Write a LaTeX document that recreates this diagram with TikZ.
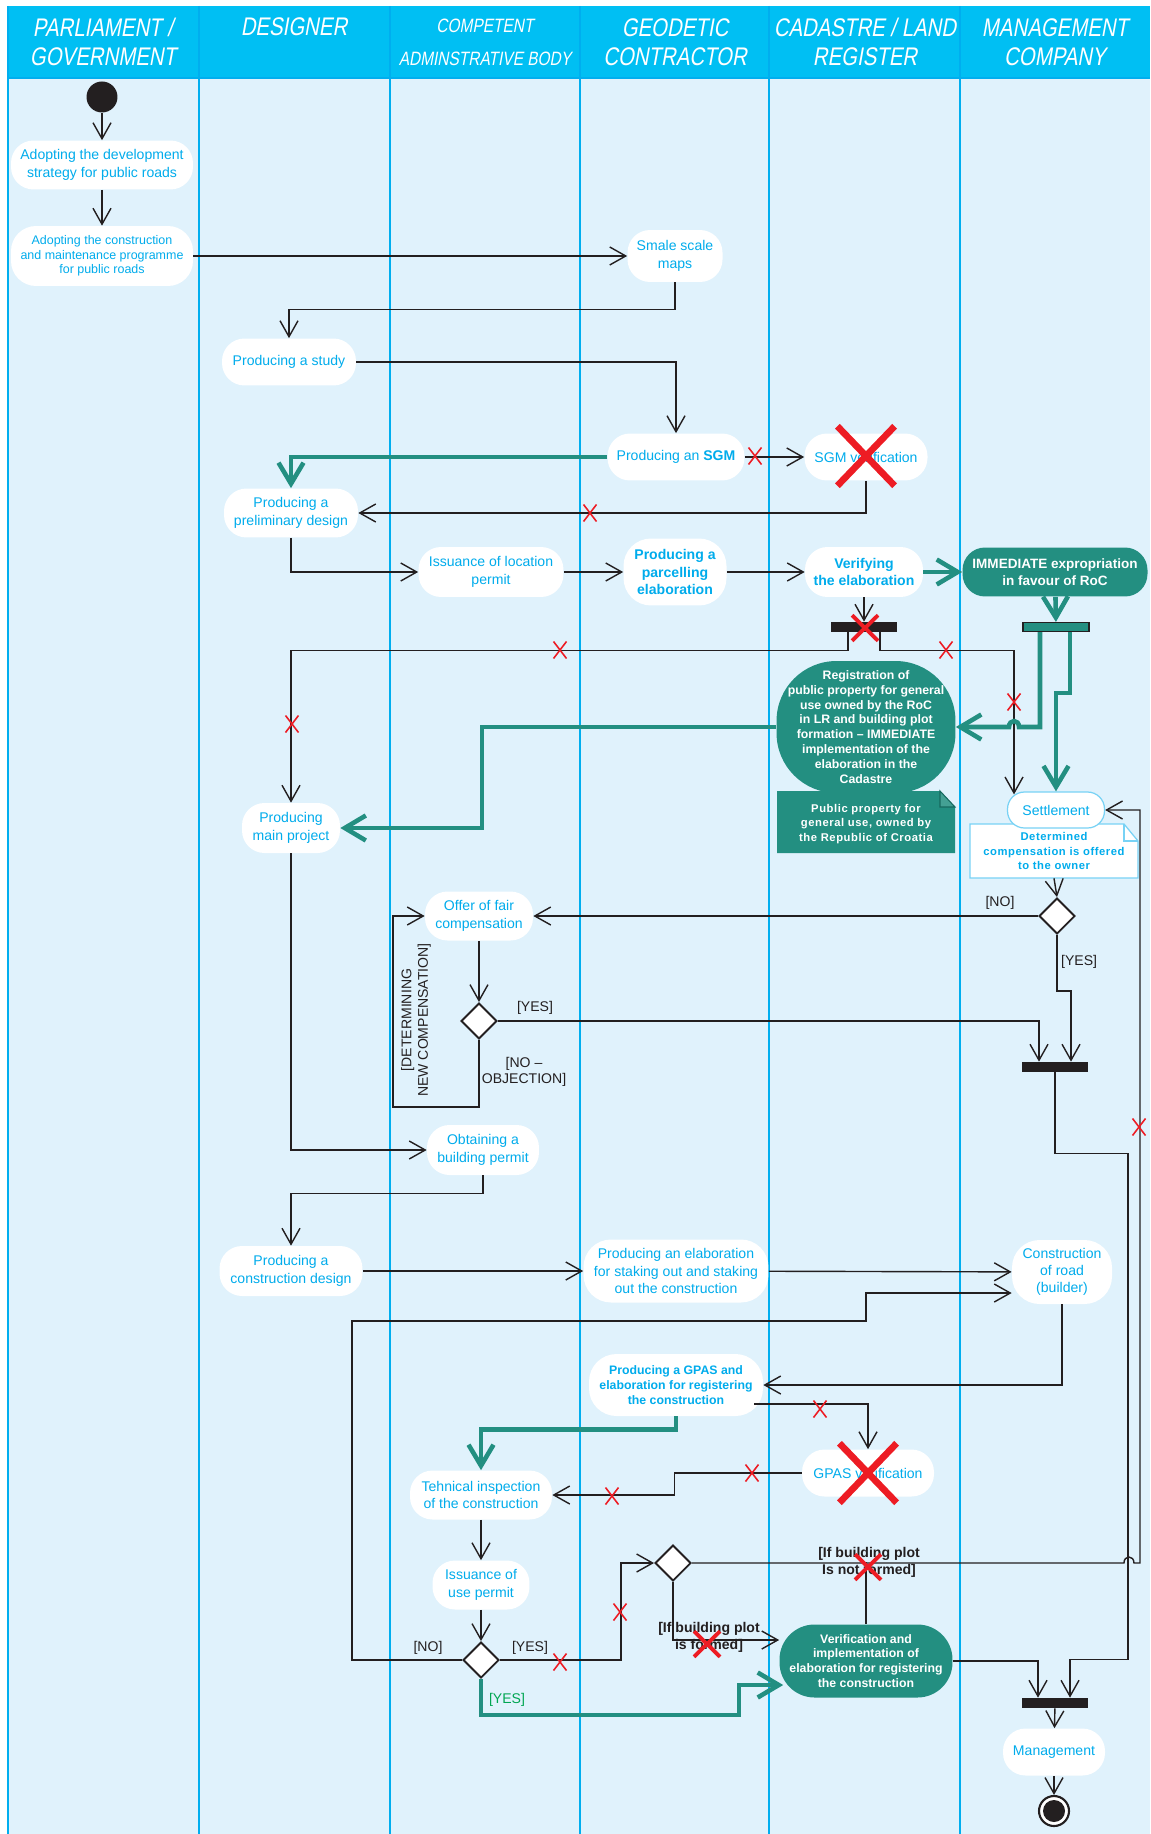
\documentclass[tikz,border=0pt]{standalone}
\usepackage{fontspec}
\setmainfont{Liberation Sans}
\newfontfamily\headfont[FakeStretch=0.8,FakeSlant=0.18]{Liberation Sans}
\newfontfamily\notefont[LetterSpace=5]{Liberation Sans}
\usetikzlibrary{arrows.meta,shapes.geometric,calc}
\definecolor{lane_bg}{RGB}{224,242,252}
\definecolor{head_blue}{RGB}{0,191,243}
\definecolor{lane_line}{RGB}{0,174,239}
\definecolor{xcyan}{RGB}{0,172,236}
\definecolor{xteal}{RGB}{35,143,129}
\definecolor{fold_teal}{RGB}{22,105,95}
\definecolor{xdark}{RGB}{35,31,32}
\definecolor{xred}{RGB}{237,28,36}
\definecolor{xgreen}{RGB}{0,166,81}
\definecolor{note_line}{RGB}{120,210,245}
\tikzstyle{lanehead}=[text=white,align=center,font=\headfont\fontsize{14.5}{16.4}\selectfont]
\tikzstyle{act}=[rectangle,rounded corners=0.45cm,fill=white,text=xcyan,align=center,
  inner sep=1pt,font=\fontsize{8}{10}\selectfont]
\tikzstyle{boldact}=[act,font=\bfseries\fontsize{8}{10}\selectfont]
\tikzstyle{tealact}=[act,fill=xteal,text=white,font=\bfseries\fontsize{7.7}{10}\selectfont]
\tikzstyle{notetext}=[align=center,inner sep=0pt,font=\notefont\bfseries\fontsize{6.4}{8.4}\selectfont]
\tikzstyle{bar}=[rectangle,fill=xdark,minimum width=1.32cm,minimum height=0.2cm,inner sep=0pt]
\tikzstyle{tealbar}=[bar,fill=xteal,draw=xdark,line width=0.6pt,minimum height=0.18cm]
\tikzstyle{choice}=[diamond,draw=xdark,fill=white,line width=1.1pt,minimum width=0.72cm,
  minimum height=0.72cm,inner sep=0pt]
\tikzstyle{startdot}=[circle,fill=xdark,minimum size=0.62cm,inner sep=0pt]
\tikzstyle{enddot}=[circle,draw=xdark,line width=1.2pt,fill=white,minimum size=0.6cm,inner sep=0pt,
  path picture={\fill [xdark] (path picture bounding box.center) circle (0.22cm);}]
\tikzstyle{guard}=[text=xdark,align=center,inner sep=1pt,font=\fontsize{8}{9.5}\selectfont]
\tikzstyle{flow}=[draw=xdark,line width=0.8pt,-{Straight Barb[length=0.32cm,width=0.36cm]}]
\tikzstyle{wire}=[draw=xdark,line width=0.8pt]
\tikzstyle{tealflow}=[draw=xteal,line width=2.6pt,-{Straight Barb[length=0.42cm,width=0.5cm]}]
\tikzstyle{smallx}=[xred,line width=0.9pt]
\tikzstyle{midx}=[xred,line width=2.2pt,xscale=2,yscale=1.5]
\tikzstyle{bigx}=[xred,line width=3.8pt,xscale=4.4,yscale=3.5]
\tikzset{redx/.pic={\draw (-6.5,-8.5) -- (6.5,8.5) (-6.5,8.5) -- (6.5,-8.5);}}

\begin{document}
\begin{tikzpicture}[x=0.02cm,y=-0.02cm]
    \useasboundingbox (0,0) rectangle (1150,1834);
    \fill [lane_bg] (8,78) rectangle (1150,1834);
    \fill [head_blue] (8,6) rectangle (1150,78);
    \draw [lane_line,line width=1pt] (8,78) -- (1150,78);
    \foreach \x in {8,199,390,580,769,960}
        \draw [lane_line,line width=1.4pt] (\x,6) -- (\x,1834);

    \node [style=lanehead] (h1) at (103,42) {PARLIAMENT /\\GOVERNMENT};
    \node [style=lanehead] (h2) at (294,27) {DESIGNER};
    \node [style=lanehead,font=\headfont\fontsize{11}{18.7}\selectfont] (h3) at (485,42) {COMPETENT\\ADMINSTRATIVE BODY};
    \node [style=lanehead] (h4) at (675,42) {GEODETIC\\CONTRACTOR};
    \node [style=lanehead] (h5) at (865,42) {CADASTRE / LAND\\REGISTER};
    \node [style=lanehead] (h6) at (1055,42) {MANAGEMENT\\COMPANY};

    \node [style=startdot] (0) at (102,97) {};
    \node [style=act,minimum width=3.64cm,minimum height=0.98cm] (1) at (102,165) {Adopting the development\\strategy for public roads};
    \node [style=act,minimum width=3.64cm,minimum height=1.2cm,rounded corners=0.5cm,font=\fontsize{7.1}{8.4}\selectfont] (2) at (102,256) {Adopting the construction\\and maintenance programme\\for public roads};
    \node [style=act,minimum width=1.9cm,minimum height=1.04cm] (3) at (675,256) {Smale scale\\maps};
    \node [style=act,minimum width=2.68cm,minimum height=0.94cm] (4) at (289,362) {Producing a study};
    \node [style=act,minimum width=2.74cm,minimum height=0.94cm] (5) at (676,457) {Producing an \textbf{SGM}};
    \node [style=act,minimum width=2.46cm,minimum height=0.94cm] (6) at (866,457) {SGM verification};
    \node [style=act,minimum width=2.68cm,minimum height=0.98cm] (7) at (291,513) {Producing a\\preliminary design};
    \node [style=act,minimum width=2.9cm,minimum height=1cm] (8) at (491,572) {Issuance of location\\permit};
    \node [style=boldact,minimum width=2.06cm,minimum height=1.34cm,rounded corners=0.55cm] (9) at (675,572) {Producing a\\parcelling\\elaboration};
    \node [style=boldact,minimum width=2.36cm,minimum height=1cm] (10) at (864,572) {Verifying\\the elaboration};
    \node [style=tealact,minimum width=3.7cm,minimum height=0.98cm] (11) at (1055,572) {IMMEDIATE expropriation\\in favour of RoC};
    \node [style=bar] (12) at (864,627) {};
    \node [style=tealbar] (13) at (1056,627) {};

    \fill [xteal] (777,791) -- (940,791) -- (955,807) -- (955,853) -- (777,853) -- cycle;
    \filldraw [fill=xteal!85!white,draw=fold_teal,line width=0.6pt] (940,791) -- (940,807) -- (955,807) -- cycle;
    \node [style=notetext,text=white,minimum width=3.56cm,minimum height=1.24cm] (15) at (866,824) {Public property for\\general use, owned by\\the Republic of Croatia};
    \node [style=tealact,rounded corners=1.2cm,minimum width=3.58cm,minimum height=2.64cm,font=\bfseries\fontsize{7}{8.5}\selectfont] (14) at (866,727) {Registration of\\public property for general\\use owned by the RoC\\in LR and building plot\\formation -- IMMEDIATE\\implementation of the\\elaboration in the\\Cadastre};

    \filldraw [fill=white,draw=note_line,line width=0.7pt] (970,824) -- (1124,824) -- (1138,841) -- (1138,878) -- (970,878) -- cycle;
    \draw [note_line,line width=0.7pt] (1124,824) -- (1124,841) -- (1138,841);
    \node [style=notetext,text=xcyan,minimum width=3.36cm,minimum height=1.08cm] (17) at (1054,851) {Determined\\compensation is offered\\to the owner};
    \node [style=act,draw=note_line,line width=0.7pt,rounded corners=0.34cm,minimum width=1.94cm,minimum height=0.72cm] (16) at (1056,810) {Settlement};

    \node [style=act,minimum width=1.96cm,minimum height=1cm] (18) at (291,828) {Producing\\main project};
    \node [style=act,minimum width=2.16cm,minimum height=0.98cm] (19) at (479,916) {Offer of fair\\compensation};
    \node [style=choice] (20) at (1057,916) {};
    \node [style=choice] (21) at (479,1021) {};
    \node [style=bar] (22) at (1055,1067) {};
    \node [style=act,minimum width=2.24cm,minimum height=1cm] (23) at (483,1150) {Obtaining a\\building permit};
    \node [style=act,minimum width=2.86cm,minimum height=1cm] (24) at (291,1271) {Producing a\\construction design};
    \node [style=act,minimum width=3.7cm,minimum height=1.26cm,rounded corners=0.55cm,font=\fontsize{8}{9.7}\selectfont] (25) at (676,1271) {Producing an elaboration\\for staking out and staking\\out the construction};
    \node [style=act,minimum width=2cm,minimum height=1.28cm,rounded corners=0.55cm,font=\fontsize{8}{9.7}\selectfont] (26) at (1062,1272) {Construction\\of road\\(builder)};
    \node [style=boldact,minimum width=3.48cm,minimum height=1.24cm,rounded corners=0.55cm,font=\bfseries\fontsize{7}{8.7}\selectfont] (27) at (676,1385) {Producing a GPAS and\\elaboration for registering\\the construction};
    \node [style=act,minimum width=2.64cm,minimum height=0.94cm] (28) at (868,1473) {GPAS verification};
    \node [style=act,minimum width=2.84cm,minimum height=0.98cm] (29) at (481,1495) {Tehnical inspection\\of the construction};
    \node [style=act,minimum width=1.94cm,minimum height=0.98cm] (30) at (481,1585) {Issuance of\\use permit};
    \node [style=choice] (31) at (481,1660) {};
    \node [style=choice] (32) at (673,1563) {};
    \node [style=tealact,minimum width=3.46cm,minimum height=1.46cm,rounded corners=0.7cm,font=\bfseries\fontsize{7}{8.5}\selectfont] (33) at (866,1661) {Verification and\\implementation of\\elaboration for registering\\the construction};
    \node [style=bar] (34) at (1055,1703) {};
    \node [style=act,minimum width=2.04cm,minimum height=0.94cm] (35) at (1054,1752) {Management};
    \node [style=enddot] (36) at (1054,1811) {};

    \node [style=guard] (l1) at (1000,903) {[NO]};
    \node [style=guard,anchor=west] (l2) at (1059,962) {[YES]};
    \node [style=guard] (l3) at (535,1008) {[YES]};
    \node [style=guard] (l4) at (524,1072) {[NO --\\OBJECTION]};
    \node [style=guard,rotate=90] (l5) at (416,1020) {[DETERMINING\\NEW COMPENSATION]};
    \node [style=guard] (l6) at (428,1648) {[NO]};
    \node [style=guard] (l7) at (530,1648) {[YES]};
    \node [style=guard,text=xgreen] (l8) at (507,1700) {[YES]};
    \node [style=guard,font=\bfseries\fontsize{8}{9.5}\selectfont] (l9) at (869,1562) {[If building plot\\Is not formed]};
    \node [style=guard,font=\bfseries\fontsize{8}{9.5}\selectfont] (l10) at (709,1637) {[If building plot\\is formed]};

    \draw [style=flow] (0) -- (1);
    \draw [style=flow] (1) -- (2);
    \draw [style=flow] (2) -- (3);
    \draw [style=flow] (3.south) -- ++(0,27) -| (4.north);
    \draw [style=flow] (4.east) -| (5.north);
    \draw [style=flow] (5.east) -- (6.west);
    \draw [style=tealflow] (5.west) -| (7.north);
    \draw [style=flow] (6.south) |- (7.east);
    \draw [style=flow] (7.south) |- (8.west);
    \draw [style=flow] (8) -- (9);
    \draw [style=flow] (9) -- (10);
    \draw [style=tealflow] (10) -- (11);
    \draw [style=flow] (10) -- (12);
    \draw [style=tealflow] (11) -- (13);
    \draw [style=flow] (12.south) ++(-16,0) -- ++(0,18) -| (18.north);
    \draw [style=flow] (12.south) ++(16,0) -- ++(0,18) -| ($(16.north)+(-42,3)$);
    \draw [style=tealflow] (13.south) ++(-16,0) -- ++(0,95) -- ++(-21,0) .. controls +(0,-8) and +(0,-8) .. ++(-10,0) -- (14.east);
    \draw [style=tealflow] (13.south) ++(14,0) -- ++(0,61) -| (16.north);
    \draw [style=tealflow] (14.west) -- ++(-294,0) |- (18.east);
    \draw [style=flow] (17.south) -- (20.north);
    \draw [style=flow] (20.west) -- (19.east);
    \draw [style=flow] (20.south) -- ++(0,56) -| ($(22.north)+(16,0)$);
    \draw [style=flow] (19) -- (21);
    \draw [style=flow] (21.east) -| ($(22.north)+(-16,0)$);
    \draw [style=flow] (21.south) -- ++(0,67) -- ++(-86,0) |- (19.west);
    \draw [style=flow] (18.south) |- (23.west);
    \draw [style=flow] (23.south) -- ++(0,18) -| (24.north);
    \draw [style=flow] (24) -- (25);
    \draw [style=flow] (25) -- (26);
    \draw [style=flow] (22.south) -- ++(0,81) -- ++(73,0) -- ++(0,506) -| ($(34.north)+(15,0)$);
    \draw [style=flow] (26.south) |- (27.east);
    \draw [style=flow] ($(27.east)+(-9,19)$) -| (28.north);
    \draw [style=tealflow] (27.south) -- ++(0,13) -| (29.north);
    \draw [style=flow] (28.west) -- ++(-127,0) |- (29.east);
    \draw [style=flow] (29) -- (30);
    \draw [style=flow] (30) -- (31);
    \draw [style=flow] (31.west) -- ++(-110,0) -- ++(0,-339) -- ++(514,0) |- ($(26.west)+(0,21)$);
    \draw [style=flow] (31.east) -- ++(121,0) |- (32.west);
    \draw [style=flow] (32.east) -- ++(432,0) .. controls +(0,-8) and +(0,-8) .. ++(10,0) -- ++(6,0) |- (16.east);
    \draw [style=wire] (33.north) -- ++(0,-62);
    \draw [style=flow] (32.south) |- ($(33.west)+(0,-21)$);
    \draw [style=tealflow] (31.south) -- ++(0,36) -- ++(258,0) |- ($(33.west)+(4,24)$);
    \draw [style=flow] (33.east) -| ($(34.north)+(-17,0)$);
    \draw [style=flow] (34) -- (35);
    \draw [style=flow] (35) -- (36);

    \pic [style=smallx] at (755,456) {redx};
    \pic [style=smallx] at (590,513) {redx};
    \pic [style=smallx] at (560,650) {redx};
    \pic [style=smallx] at (292,724) {redx};
    \pic [style=smallx] at (946,650) {redx};
    \pic [style=smallx] at (1014,702) {redx};
    \pic [style=smallx] at (1139,1127) {redx};
    \pic [style=smallx] at (820,1409) {redx};
    \pic [style=smallx] at (752,1473) {redx};
    \pic [style=smallx] at (612,1496) {redx};
    \pic [style=smallx] at (560,1662) {redx};
    \pic [style=smallx] at (620,1612) {redx};
    \pic [style=midx] at (865,628) {redx};
    \pic [style=midx] at (868,1567) {redx};
    \pic [style=midx] at (707,1644) {redx};
    \pic [style=bigx] at (866,456) {redx};
    \pic [style=bigx] at (868,1473) {redx};
\end{tikzpicture}
\end{document}
